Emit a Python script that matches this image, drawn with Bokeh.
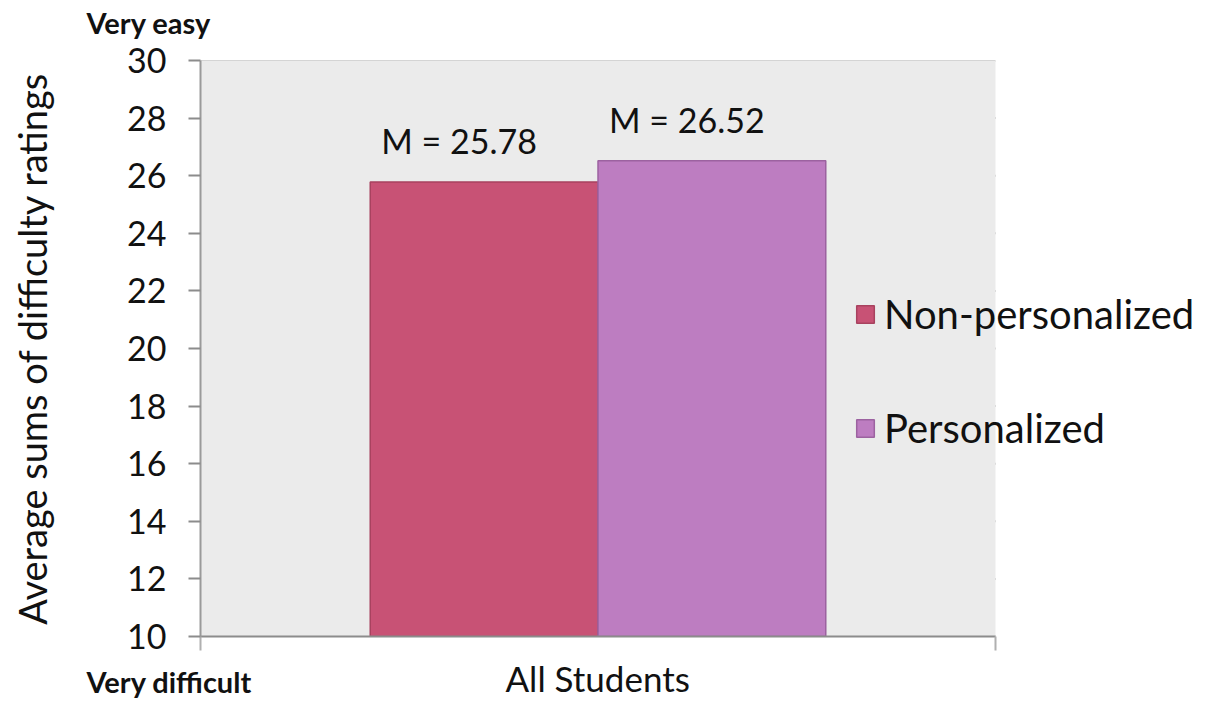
from bokeh.plotting import figure
from bokeh.models import (ColumnDataSource, Range1d, FixedTicker, LabelSet,
                          Legend, LegendItem, BoxAnnotation, Title)
from bokeh.core.properties import value
from bokeh.embed import file_html
from bokeh.resources import INLINE

# ---- data ----
category = "All Students"
series = ["Non-personalized", "Personalized"]
means = [25.78, 26.52]
mean_labels = ["M = 25.78", "M = 26.52"]
colors = ["#C85275", "#BD7DC1"]
edge_colors = ["#A8425F", "#9C62A0"]
y_ticks = [10, 12, 14, 16, 18, 20, 22, 24, 26, 28, 30]
top_note = "Very easy"
bottom_note = "Very difficult"
y_title = "Average sums of difficulty ratings"

FONT = "Lato"
W, H = 1209, 701
LEFT, TOP, BOTTOM = 200, 60, 65
PX_PER_X = 795.0  # width of the category band in pixels

x_end = (W - LEFT) / PX_PER_X
p = figure(width=W, height=H, output_backend="svg", toolbar_location=None,
           x_range=Range1d(0, x_end), y_range=Range1d(10, 30),
           min_border_left=LEFT, min_border_right=0,
           min_border_top=TOP, min_border_bottom=BOTTOM)
p.background_fill_color = "white"
p.border_fill_color = "white"
p.outline_line_color = None

# plot area background (category band)
p.add_layout(BoxAnnotation(left=0, right=1, bottom=y_ticks[0], top=y_ticks[-1],
                           fill_color="#EBEBEB", fill_alpha=1, line_color=None,
                           level="underlay"))

# horizontal grid lines across the category band
grid_src = ColumnDataSource(dict(y=y_ticks, x0=[0] * len(y_ticks), x1=[1] * len(y_ticks)))
p.segment(x0="x0", x1="x1", y0="y", y1="y", source=grid_src,
          line_color="#9A9A9A", line_width=2, level="underlay")

# bars
group_center = 0.5
bar_w = 0.2865
xs = [group_center + (i - (len(series) - 1) / 2) * bar_w for i in range(len(series))]
src = ColumnDataSource(dict(x=xs, top=means, lab=mean_labels))
renderers = []
for i, s in enumerate(series):
    r = p.vbar(x=[xs[i]], top=[means[i]], bottom=y_ticks[0], width=bar_w,
               fill_color=colors[i], line_color=edge_colors[i], line_width=1.5)
    renderers.append(r)

# value labels
labels = LabelSet(x="x", y="top", text="lab", source=src, x_offset=-25, y_offset=28,
                  text_align="center", text_baseline="alphabetic",
                  text_font=value(FONT), text_font_size=value("34px"),
                  text_color="#111111")
p.add_layout(labels)

# y axis
p.yaxis.ticker = FixedTicker(ticks=y_ticks)
p.yaxis.major_label_text_font = FONT
p.yaxis.major_label_text_font_size = "34px"
p.yaxis.major_label_text_color = "#111111"
p.yaxis.major_tick_out = 12
p.yaxis.major_tick_in = 0
p.yaxis.minor_tick_line_color = None
p.yaxis.major_tick_line_color = "#8C8C8C"
p.yaxis.major_tick_line_width = 2
p.yaxis.axis_line_color = "#9A9A9A"
p.yaxis.axis_line_width = 2
p.yaxis.major_label_standoff = 22
p.yaxis.axis_label = y_title
p.yaxis.axis_label_text_font = FONT
p.yaxis.axis_label_text_font_style = "normal"
p.yaxis.axis_label_text_font_size = "38px"
p.yaxis.axis_label_text_color = "#111111"
p.yaxis.axis_label_standoff = 69

# x axis (category band edges only)
p.xaxis.ticker = FixedTicker(ticks=[0, 1])
p.xaxis.bounds = (0, 1)
p.xaxis.major_label_overrides = {0: "", 1: ""}
p.xaxis.major_label_text_font_size = "1px"
p.xaxis.major_label_standoff = 0
p.xaxis.major_tick_out = 14
p.xaxis.major_tick_in = 0
p.xaxis.minor_tick_line_color = None
p.xaxis.major_tick_line_color = "#B0B0B0"
p.xaxis.major_tick_line_width = 2
p.xaxis.axis_line_color = "#8C8C8C"
p.xaxis.axis_line_width = 2

p.xgrid.grid_line_color = None
p.ygrid.grid_line_color = None

# top note: a thin spacer keeps it clear of the plot area
p.add_layout(Title(text=" ", text_font_size="1px", standoff=18), "above")
p.add_layout(Title(text=top_note, align="left", offset=-114, vertical_align="bottom",
                   standoff=0, text_font=FONT, text_font_style="bold",
                   text_font_size="29px", text_color="#111111"), "above")

# category name, centred under the category band (drawn below its slot)
p.add_layout(Title(text=category, align="left", offset=305, vertical_align="bottom",
                   standoff=-97, text_font=FONT, text_font_style="normal",
                   text_font_size="35px", text_color="#111111"), "below")
# bottom note on the same line as the category name
p.add_layout(Title(text=bottom_note, align="left", offset=-114, vertical_align="bottom",
                   standoff=-97, text_font=FONT, text_font_style="bold",
                   text_font_size="29px", text_color="#111111"), "below")

# legend
legend = Legend(items=[LegendItem(label=s, renderers=[renderers[i]]) for i, s in enumerate(series)],
                location=(654, 184), orientation="vertical",
                label_text_font=FONT, label_text_font_size="40px", label_text_color="#111111",
                glyph_width=22, glyph_height=22, label_standoff=8, spacing=66,
                padding=0, margin=0, border_line_color=None,
                background_fill_alpha=0)
p.add_layout(legend)

open("out.html", "w").write(file_html(p, INLINE))
